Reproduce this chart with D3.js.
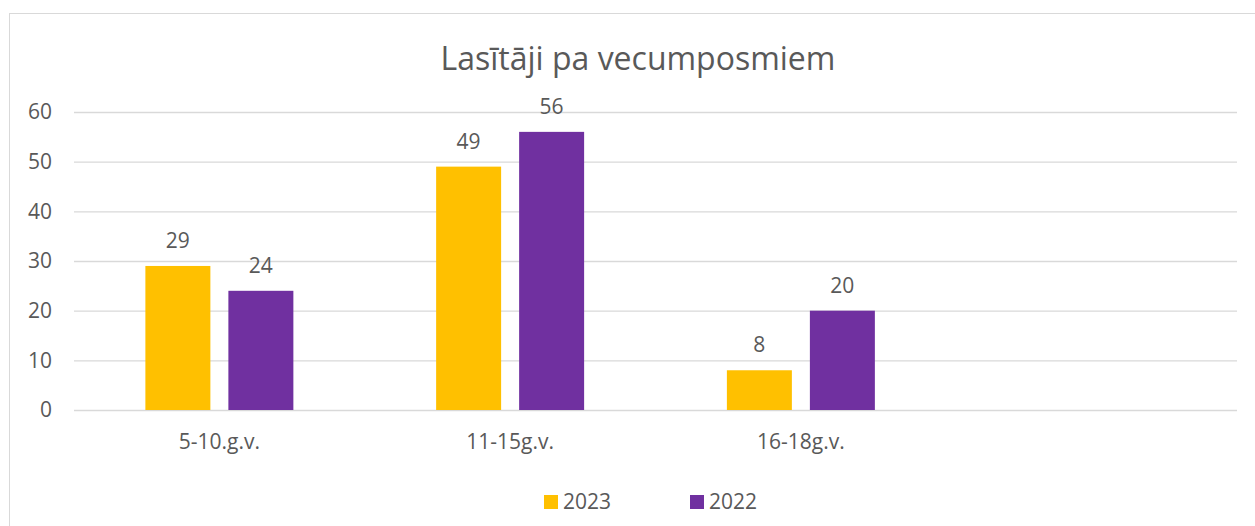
<!DOCTYPE html>
<html>
<head>
<meta charset="utf-8">
<script src="https://cdn.jsdelivr.net/npm/d3@7"></script>
<style>
  body { margin: 0; background: #fff; }
  text { font-family: "Open Sans", sans-serif; fill: #595959; }
  .grid line { stroke: #d9d9d9; stroke-width: 1.3; }
  .grid path { display: none; }
</style>
</head>
<body>
<div id="chart"></div>
<script>
// grouped bars, two years per age group

const categories = ["5-10.g.v.", "11-15g.v.", "16-18g.v.", ""];
const series = ["2023", "2022"];
const values2023 = [29, 49, 8, null];
const values2022 = [24, 56, 20, null];
const colors = ["#FFC000", "#7030A0"];
const yTicks = [0, 10, 20, 30, 40, 50, 60];
const title = "Lasītāji pa vecumposmiem";

const W = 1255, H = 526;
const plotLeft = 74, plotRight = 1237, plotTop = 112, plotBottom = 410;
const fs = "21px";

const data = categories.map((c, i) => ({
  cat: c,
  vals: [values2023[i], values2022[i]]
}));

const svg = d3.select("#chart").append("svg")
  .attr("width", W)
  .attr("height", H)

// outer chart border
svg.append("rect")
  .attr("x", 9.5).attr("y", 13.5)
  .attr("width", W).attr("height", H)
  .attr("fill", "none")
  .attr("stroke", "#d9d9d9")

const x = d3.scaleBand()
  .domain(categories)
  .range([plotLeft, plotRight])
  .padding(0)

const xs = d3.scaleBand()
  .domain(series)
  .range([0, x.bandwidth()])
  .paddingInner(0.217)
  .paddingOuter(0.86)

const y = d3.scaleLinear()
  .domain([0, 60])
  .range([plotBottom, plotTop])

// gridlines + y labels
svg.append("g")
  .attr("class", "grid")
  .attr("transform", `translate(${plotLeft},0)`)
  .call(d3.axisLeft(y)
    .tickValues(yTicks)
    .tickSize(-(plotRight - plotLeft))
    .tickPadding(22))
  .selectAll("text")
  .style("font-size", fs)

// category labels
const xAxis = svg.append("g")
  .attr("transform", `translate(0,${plotBottom})`)
  .call(d3.axisBottom(x).tickSize(0).tickPadding(24))
xAxis.select(".domain").remove()
xAxis.selectAll("text").style("font-size", fs)

const groups = svg.selectAll(".grp")
  .data(data)
  .enter()
  .append("g")
  .attr("class", "grp")
  .attr("transform", d => `translate(${x(d.cat)},0)`)

const bars = groups.selectAll(".bar")
  .data(d => d.vals.map((v, i) => ({ s: series[i], v: v, i: i })).filter(e => e.v != null))
  .enter()

bars.append("rect")
  .attr("x", e => xs(e.s))
  .attr("y", e => y(e.v))
  .attr("width", xs.bandwidth())
  .attr("height", e => plotBottom - y(e.v))
  .attr("fill", e => colors[e.i])

bars.append("text")
  .attr("x", e => xs(e.s) + xs.bandwidth() / 2)
  .attr("y", e => y(e.v) - 18)
  .attr("text-anchor", "middle")
  .style("font-size", fs)
  .text(e => e.v)

// title, fit to the reference width
const t = svg.append("text")
  .attr("x", 638)
  .attr("y", 70)
  .attr("text-anchor", "middle")
  .style("font-size", "32px")
  .text(title)
const tw = t.node().getComputedTextLength()
t.style("font-size", (32 * 395 / tw) + "px")

// legend
const legendX = [544, 690];
series.forEach((s, i) => {
  svg.append("rect")
    .attr("x", legendX[i]).attr("y", 495)
    .attr("width", 14).attr("height", 14)
    .attr("fill", colors[i])
  svg.append("text")
    .attr("x", legendX[i] + 19)
    .attr("y", 509)
    .style("font-size", fs)
    .text(s)
})
</script>
</body>
</html>
